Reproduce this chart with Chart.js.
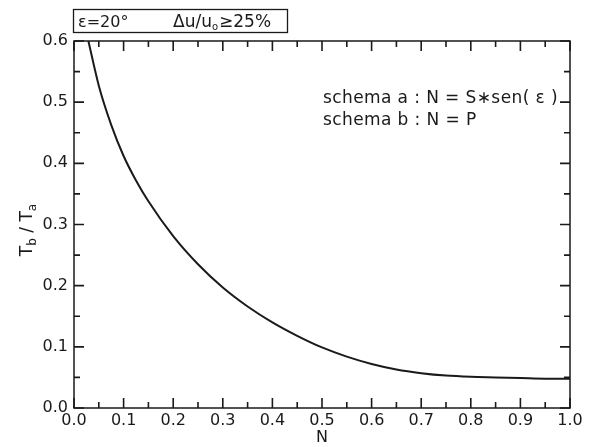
<!DOCTYPE html>
<html lang="en">
<head>
    <meta charset="UTF-8">
    <script src="https://cdn.jsdelivr.net/npm/chart.js@4.4.1/dist/chart.umd.min.js"></script>
    <title>Tb / Ta vs N</title>
    <style>
        body { margin: 0; background: #fff; }
        #wrap { position: relative; width: 596px; height: 447px; }
    </style>
</head>
<body>
    <div id="wrap"><canvas id="chart" width="596" height="447"></canvas></div>
    <script>
        // curve
        const nValues = [0.029, 0.05, 0.075, 0.1, 0.125, 0.15, 0.2, 0.25, 0.3, 0.35, 0.4, 0.45, 0.5, 0.55, 0.6, 0.65, 0.7, 0.75, 0.8, 0.85, 0.9, 0.95, 1.0];
        const ratioValues = [0.600, 0.527, 0.463, 0.412, 0.372, 0.338, 0.281, 0.235, 0.197, 0.166, 0.140, 0.118, 0.099, 0.084, 0.072, 0.063, 0.057, 0.053, 0.051, 0.050, 0.049, 0.048, 0.048];

        const xTicks = [0, 0.1, 0.2, 0.3, 0.4, 0.5, 0.6, 0.7, 0.8, 0.9, 1.0];
        const yTicks = [0, 0.1, 0.2, 0.3, 0.4, 0.5, 0.6];
        const headerText = ['\u03B5=20\u00B0', '\u0394u/u', 'o', '\u226525%'];
        const noteLines = ['schema a : N = S\u2217sen( \u03B5 )', 'schema b : N = P'];

        const FONT = '"DejaVu Sans", Verdana, sans-serif';
        const INK = '#1a1a1a';

        const points = nValues.map((n, i) => ({ x: n, y: ratioValues[i] }));

        // inward ticks on all four sides, plus the header box, note and axis titles
        const decor = {
            id: 'decor',
            afterDraw(chart) {
                const ctx = chart.ctx;
                const xs = chart.scales.x, ys = chart.scales.y;
                const a = chart.chartArea;
                ctx.save();
                ctx.strokeStyle = INK;
                ctx.lineWidth = 1.5;
                ctx.strokeRect(a.left, a.top, a.right - a.left, a.bottom - a.top);

                ctx.lineWidth = 1.6;
                for (let i = 0; i <= 20; i++) {
                    const v = i * 0.05;
                    const px = xs.getPixelForValue(v);
                    const len = i % 2 === 0 ? 10 : 6;
                    ctx.beginPath();
                    ctx.moveTo(px, a.bottom); ctx.lineTo(px, a.bottom - len);
                    ctx.moveTo(px, a.top); ctx.lineTo(px, a.top + len);
                    ctx.stroke();
                }
                for (let i = 0; i <= 12; i++) {
                    const v = i * 0.05;
                    const py = ys.getPixelForValue(v);
                    const len = i % 2 === 0 ? 10 : 6;
                    ctx.beginPath();
                    ctx.moveTo(a.left, py); ctx.lineTo(a.left + len, py);
                    ctx.moveTo(a.right, py); ctx.lineTo(a.right - len, py);
                    ctx.stroke();
                }

                // header box
                ctx.lineWidth = 1.3;
                ctx.strokeRect(73.5, 9.5, 214, 23);
                ctx.fillStyle = INK;
                ctx.textBaseline = 'alphabetic';
                ctx.textAlign = 'left';
                ctx.font = '16px ' + FONT;
                ctx.fillText(headerText[0], 78, 27);
                ctx.font = '17px ' + FONT;
                let hx = 173;
                ctx.fillText(headerText[1], hx, 27);
                hx += ctx.measureText(headerText[1]).width;
                ctx.font = '10px ' + FONT;
                ctx.fillText(headerText[2], hx, 30);
                hx += ctx.measureText(headerText[2]).width + 1;
                ctx.font = '17px ' + FONT;
                ctx.fillText(headerText[3], hx, 27);

                // note inside the plot
                ctx.font = '17px ' + FONT;
                ctx.letterSpacing = '0.4px';
                ctx.fillText(noteLines[0], 323, 103);
                ctx.fillText(noteLines[1], 323, 125);
                ctx.letterSpacing = '0px';

                // x title
                ctx.font = '16px ' + FONT;
                ctx.textAlign = 'center';
                ctx.fillText('N', (a.left + a.right) / 2, 442);

                // y title, rotated, with subscripts
                ctx.translate(27, 230);
                ctx.rotate(-Math.PI / 2);
                ctx.textAlign = 'left';
                const parts = [['T', 0, 17], ['b', 4, 12], [' / T', 0, 17], ['a', 4, 12]];
                let w = 0;
                parts.forEach(p => { ctx.font = p[2] + 'px ' + FONT; w += ctx.measureText(p[0]).width; });
                let tx = -w / 2;
                parts.forEach(p => {
                    ctx.font = p[2] + 'px ' + FONT;
                    ctx.fillText(p[0], tx, 5 + p[1]);
                    tx += ctx.measureText(p[0]).width;
                });
                ctx.restore();
            }
        };

        new Chart(document.getElementById('chart').getContext('2d'), {
            type: 'scatter',
            data: {
                datasets: [{
                    data: points,
                    showLine: true,
                    borderColor: INK,
                    borderWidth: 2,
                    pointRadius: 0,
                    cubicInterpolationMode: 'monotone',
                    fill: false
                }]
            },
            options: {
                responsive: false,
                animation: false,
                events: [],
                layout: { padding: { top: 41, right: 26, left: 0, bottom: 0 } },
                plugins: { legend: { display: false }, tooltip: { enabled: false } },
                scales: {
                    x: {
                        type: 'linear', min: 0, max: 1,
                        afterFit: s => { s.height = 39; },
                        afterBuildTicks: s => { s.ticks = xTicks.map(v => ({ value: v })); },
                        grid: { display: false, drawTicks: false },
                        border: { display: false },
                        ticks: {
                            padding: 3, color: INK,
                            font: { family: FONT, size: 16 },
                            callback: v => v.toFixed(1),
                            maxRotation: 0, autoSkip: false
                        }
                    },
                    y: {
                        type: 'linear', min: 0, max: 0.6,
                        afterFit: s => { s.width = 74; },
                        afterBuildTicks: s => { s.ticks = yTicks.map(v => ({ value: v })); },
                        grid: { display: false, drawTicks: false },
                        border: { display: false },
                        ticks: {
                            padding: 6, color: INK,
                            font: { family: FONT, size: 16 },
                            callback: v => v.toFixed(1),
                            autoSkip: false
                        }
                    }
                }
            },
            plugins: [decor]
        });
    </script>
</body>
</html>
